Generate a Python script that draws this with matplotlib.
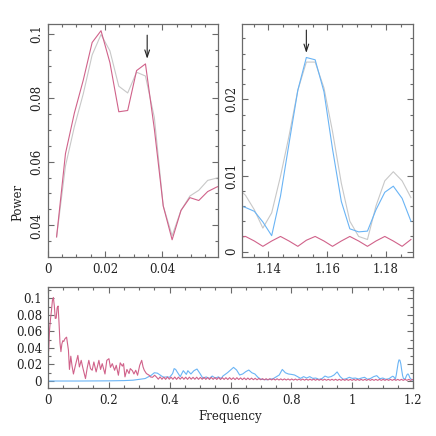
import numpy as np
import matplotlib
matplotlib.use("Agg")
import matplotlib.pyplot as plt
from matplotlib.ticker import MultipleLocator, FuncFormatter

### colours ###
pink  = '#d0628a'
blue  = '#6ab4f5'
grey  = '#c8c8c8'
frame = '#6a6a6a'

### top-left zoom: low frequencies ###
freq_lo = [0.0031, 0.0062, 0.0093, 0.0124, 0.0155, 0.0186, 0.0217, 0.0248, 0.0279, 0.0310,
           0.0341, 0.0372, 0.0403, 0.0434, 0.0465, 0.0496, 0.0527, 0.0558, 0.0589, 0.0620]
pink_lo = [0.0364, 0.0625, 0.0752, 0.0855, 0.0973, 0.1010, 0.0910, 0.0756, 0.0760, 0.0885,
           0.0906, 0.0702, 0.0461, 0.0355, 0.0447, 0.0487, 0.0478, 0.0506, 0.0520, 0.0530]
grey_lo = [0.0364, 0.0586, 0.0709, 0.0812, 0.0934, 0.0998, 0.0947, 0.0836, 0.0815, 0.0880,
           0.0868, 0.0738, 0.0461, 0.0368, 0.0447, 0.0492, 0.0510, 0.0541, 0.0548, 0.0555]

### top-right zoom: around 1.15 ###
freq_hi = [1.1292, 1.1322, 1.1352, 1.1381, 1.1411, 1.1441, 1.1470, 1.1500, 1.1529, 1.1559, 1.1589,
           1.1618, 1.1648, 1.1677, 1.1707, 1.1737, 1.1766, 1.1796, 1.1825, 1.1855, 1.1885]
blue_hi = [0.0062, 0.0058, 0.0053, 0.0039, 0.0021, 0.0073, 0.0142, 0.0212, 0.0255, 0.0252, 0.0210,
           0.0135, 0.0066, 0.0030, 0.0026, 0.0027, 0.0055, 0.0078, 0.0086, 0.0070, 0.0040]
grey_hi = [0.0085, 0.0074, 0.0055, 0.0031, 0.0051, 0.0099, 0.0152, 0.0212, 0.0249, 0.0249, 0.0215,
           0.0158, 0.0090, 0.0040, 0.0020, 0.0016, 0.0060, 0.0093, 0.0105, 0.0093, 0.0071]
pink_hi = [0.0018, 0.0020, 0.0014, 0.0007, 0.0014, 0.0020, 0.0014, 0.0007, 0.0015, 0.0020, 0.0014,
           0.0007, 0.0014, 0.0020, 0.0014, 0.0007, 0.0014, 0.0020, 0.0014, 0.0007, 0.0016]

### bottom: full spectrum ###
freq_red_mid = [0.068, 0.0714, 0.0758, 0.080, 0.0845, 0.091, 0.099, 0.104, 0.110, 0.115,
                0.124, 0.130, 0.135, 0.1405, 0.146, 0.1515, 0.159, 0.168, 0.1735, 0.179,
                0.188, 0.194, 0.201, 0.206, 0.212, 0.2196, 0.225, 0.232, 0.238, 0.245,
                0.249, 0.2536, 0.260, 0.267, 0.271, 0.278, 0.283, 0.289, 0.295, 0.302,
                0.3085, 0.313, 0.317, 0.324, 0.333, 0.337, 0.344, 0.351]
pink_mid = [0.0375, 0.014, 0.030, 0.018, 0.0085, 0.019, 0.031, 0.017, 0.025, 0.0165,
            0.003, 0.0165, 0.025, 0.015, 0.013, 0.023, 0.011, 0.025, 0.014, 0.021,
            0.0085, 0.025, 0.027, 0.0165, 0.021, 0.013, 0.019, 0.007, 0.022, 0.018,
            0.021, 0.005, 0.014, 0.009, 0.015, 0.0125, 0.0085, 0.013, 0.007, 0.019,
            0.025, 0.017, 0.013, 0.009, 0.007, 0.005, 0.0045, 0.007]

freq_ripple = [0.357, 0.363, 0.369, 0.375, 0.381, 0.387, 0.393, 0.399, 0.405, 0.411,
               0.417, 0.423, 0.429, 0.435, 0.441, 0.447, 0.453, 0.459, 0.465, 0.471,
               0.477, 0.483, 0.489, 0.495, 0.501, 0.507, 0.513, 0.519, 0.525, 0.531,
               0.537, 0.543, 0.549, 0.555, 0.561, 0.567, 0.573, 0.579, 0.585, 0.591,
               0.597, 0.603, 0.609, 0.615, 0.621, 0.627, 0.633, 0.639, 0.645, 0.651,
               0.657, 0.663, 0.669, 0.675, 0.681, 0.687, 0.693, 0.699, 0.705, 0.711,
               0.717, 0.723, 0.729, 0.735, 0.741, 0.747, 0.753, 0.759, 0.765, 0.771,
               0.777, 0.783, 0.789, 0.795, 0.801, 0.807, 0.813, 0.819, 0.825, 0.831,
               0.837, 0.843, 0.849, 0.855, 0.861, 0.867, 0.873, 0.879, 0.885, 0.891,
               0.897, 0.903, 0.909, 0.915, 0.921, 0.927, 0.933, 0.939, 0.945, 0.951,
               0.957, 0.963, 0.969, 0.975, 0.981, 0.987, 0.993, 0.999, 1.005, 1.011,
               1.017, 1.023, 1.029, 1.035, 1.041, 1.047, 1.053, 1.059, 1.065, 1.071,
               1.077, 1.083, 1.089, 1.095, 1.101, 1.107, 1.113, 1.119, 1.125, 1.131,
               1.137, 1.143, 1.149, 1.155, 1.161, 1.167, 1.173, 1.179, 1.185, 1.191,
               1.197, 1.200]
pink_ripple = [0.0048, 0.0022, 0.0050, 0.0021, 0.0047, 0.0020, 0.0049, 0.0022, 0.0046, 0.0021,
               0.0048, 0.0020, 0.0047, 0.0022, 0.0048, 0.0021, 0.0046, 0.0020, 0.0047, 0.0022,
               0.0045, 0.0021, 0.0046, 0.0020, 0.0044, 0.0021, 0.0045, 0.0020, 0.0043, 0.0019,
               0.0044, 0.0020, 0.0042, 0.0019, 0.0043, 0.0018, 0.0041, 0.0019, 0.0040, 0.0018,
               0.0041, 0.0018, 0.0039, 0.0017, 0.0040, 0.0018, 0.0038, 0.0017, 0.0037, 0.0016,
               0.0036, 0.0017, 0.0035, 0.0016, 0.0033, 0.0015, 0.0031, 0.0015, 0.0029, 0.0014,
               0.0028, 0.0013, 0.0028, 0.0013, 0.0027, 0.0012, 0.0027, 0.0012, 0.0026, 0.0012,
               0.0026, 0.0012, 0.0025, 0.0011, 0.0025, 0.0011, 0.0024, 0.0011, 0.0024, 0.0010,
               0.0024, 0.0010, 0.0023, 0.0010, 0.0023, 0.0010, 0.0023, 0.0009, 0.0022, 0.0009,
               0.0022, 0.0009, 0.0022, 0.0009, 0.0021, 0.0009, 0.0021, 0.0009, 0.0021, 0.0008,
               0.0021, 0.0008, 0.0021, 0.0008, 0.0020, 0.0008, 0.0020, 0.0008, 0.0020, 0.0008,
               0.0020, 0.0008, 0.0020, 0.0008, 0.0020, 0.0008, 0.0020, 0.0008, 0.0020, 0.0008,
               0.0020, 0.0008, 0.0020, 0.0008, 0.0020, 0.0008, 0.0020, 0.0008, 0.0020, 0.0008,
               0.0020, 0.0008, 0.0020, 0.0008, 0.0020, 0.0008, 0.0020, 0.0008, 0.0020, 0.0008,
               0.0019, 0.0015]

freq_blue_all = [0.0, 0.10, 0.20, 0.25, 0.28, 0.30, 0.32, 0.33, 0.34, 0.35,
                 0.36, 0.37, 0.38, 0.39, 0.40, 0.41, 0.415, 0.42, 0.425, 0.435,
                 0.445, 0.455, 0.46, 0.47, 0.48, 0.49, 0.50, 0.51, 0.52, 0.53,
                 0.54, 0.55, 0.56, 0.57, 0.575, 0.59, 0.61, 0.62, 0.63, 0.64,
                 0.65, 0.66, 0.67, 0.68, 0.69, 0.70, 0.72, 0.74, 0.76, 0.77,
                 0.78, 0.79, 0.80, 0.81, 0.82, 0.83, 0.84, 0.85, 0.86, 0.87,
                 0.88, 0.89, 0.90, 0.91, 0.92, 0.93, 0.94, 0.95, 0.96, 0.97,
                 0.98, 0.99, 1.00, 1.01, 1.02, 1.03, 1.04, 1.05, 1.06, 1.07,
                 1.08, 1.09, 1.10, 1.11, 1.12]
blue_all = [0.0, 0.0, 0.0002, 0.0005, 0.001, 0.002, 0.003, 0.005, 0.007, 0.010,
            0.0095, 0.007, 0.0045, 0.005, 0.0045, 0.009, 0.015, 0.014, 0.011, 0.0053,
            0.0125, 0.008, 0.0125, 0.0085, 0.0125, 0.0145, 0.009, 0.003, 0.005, 0.003,
            0.006, 0.0035, 0.005, 0.003, 0.006, 0.010, 0.0165, 0.0133, 0.0073, 0.0085,
            0.0113, 0.0133, 0.010, 0.0085, 0.0045, 0.002, 0.0016, 0.0028, 0.0073, 0.014,
            0.010, 0.0085, 0.008, 0.0073, 0.0053, 0.0032, 0.0053, 0.0036, 0.0053, 0.0032,
            0.0036, 0.002, 0.0028, 0.006, 0.0045, 0.0053, 0.0073, 0.011, 0.0053, 0.002,
            0.0028, 0.0045, 0.0032, 0.0036, 0.0024, 0.0036, 0.0045, 0.002, 0.0032, 0.0053,
            0.0065, 0.0028, 0.0036, 0.002, 0.0028]
freq_blue_end = [1.195, 1.200]
blue_end = [0.0015, 0.0010]

# full spectra for the bottom panel
freq_pink_full = freq_lo + freq_red_mid + freq_ripple
pink_full = pink_lo + pink_mid + pink_ripple
freq_blue_full = freq_blue_all + freq_hi[1:] + freq_blue_end
blue_full = blue_all + blue_hi[1:] + blue_end

plt.rcParams['font.family'] = 'DejaVu Serif'
plt.rcParams['font.size'] = 8.5

fmt = FuncFormatter(lambda v, p: '%g' % round(v, 6))


def style(ax, xmaj, xmin, ymaj, ymin, rot):
    for s in ax.spines.values():
        s.set_color(frame)
        s.set_linewidth(0.9)
    ax.xaxis.set_major_locator(MultipleLocator(xmaj))
    ax.xaxis.set_minor_locator(MultipleLocator(xmin))
    ax.yaxis.set_major_locator(MultipleLocator(ymaj))
    ax.yaxis.set_minor_locator(MultipleLocator(ymin))
    ax.xaxis.set_major_formatter(fmt)
    ax.yaxis.set_major_formatter(fmt)
    ax.tick_params(which='both', direction='in', top=True, right=True, color=frame,
                   width=0.8, labelcolor='#222222')
    ax.tick_params(which='major', length=4.5)
    ax.tick_params(which='minor', length=2.3)
    ax.tick_params(axis='x', pad=4)
    if rot:
        ax.tick_params(axis='y', labelrotation=90, pad=3)
        for lbl in ax.get_yticklabels():
            lbl.set_va('center')
    else:
        ax.tick_params(axis='y', pad=4)


fig = plt.figure(figsize=(4.36, 4.36), dpi=100)

W = 436.0
ax1 = fig.add_axes([47.7 / W, 1 - 257 / W, 170 / W, 233 / W])
ax2 = fig.add_axes([242.3 / W, 1 - 257 / W, 170.4 / W, 233 / W])
ax3 = fig.add_axes([47.7 / W, 1 - 388.3 / W, 365.6 / W, 101.6 / W])

# top left
ax1.plot(freq_lo, grey_lo, color=grey, lw=0.8)
ax1.plot(freq_lo, pink_lo, color=pink, lw=0.8)
ax1.set_xlim(0, 0.0593)
ax1.set_ylim(0.0301, 0.1031)
style(ax1, 0.02, 0.005, 0.02, 0.005, True)
ax1.annotate('', xy=(0.0347, 0.0922), xytext=(0.0347, 0.0996),
             arrowprops=dict(arrowstyle='->,head_length=0.6,head_width=0.2',
                             color='#222222', lw=0.8, shrinkA=0, shrinkB=0))

# top right
ax2.plot(freq_hi, grey_hi, color=grey, lw=0.8)
ax2.plot(freq_hi, blue_hi, color=blue, lw=0.8)
ax2.plot(freq_hi, pink_hi, color=pink, lw=0.8)
ax2.set_xlim(1.1311, 1.1891)
ax2.set_ylim(-0.0007, 0.0299)
style(ax2, 0.02, 0.005, 0.01, 0.002, True)
ax2.annotate('', xy=(1.1529, 0.0261), xytext=(1.1529, 0.0291),
             arrowprops=dict(arrowstyle='->,head_length=0.6,head_width=0.2',
                             color='#222222', lw=0.8, shrinkA=0, shrinkB=0))

# bottom overview
ax3.plot(freq_blue_full, blue_full, color=blue, lw=0.8)
ax3.plot(freq_pink_full, pink_full, color=pink, lw=0.8)
ax3.set_xlim(0, 1.2)
ax3.set_ylim(-0.0088, 0.114)
style(ax3, 0.2, 0.05, 0.02, 0.01, False)

fig.text(18 / W, 1 - 202 / W, 'Power', rotation=90, ha='center', va='center',
         color='#222222')
fig.text(230 / W, 1 - 416 / W, 'Frequency', ha='center', va='center', color='#222222')

fig.savefig('out.png', dpi=100)
